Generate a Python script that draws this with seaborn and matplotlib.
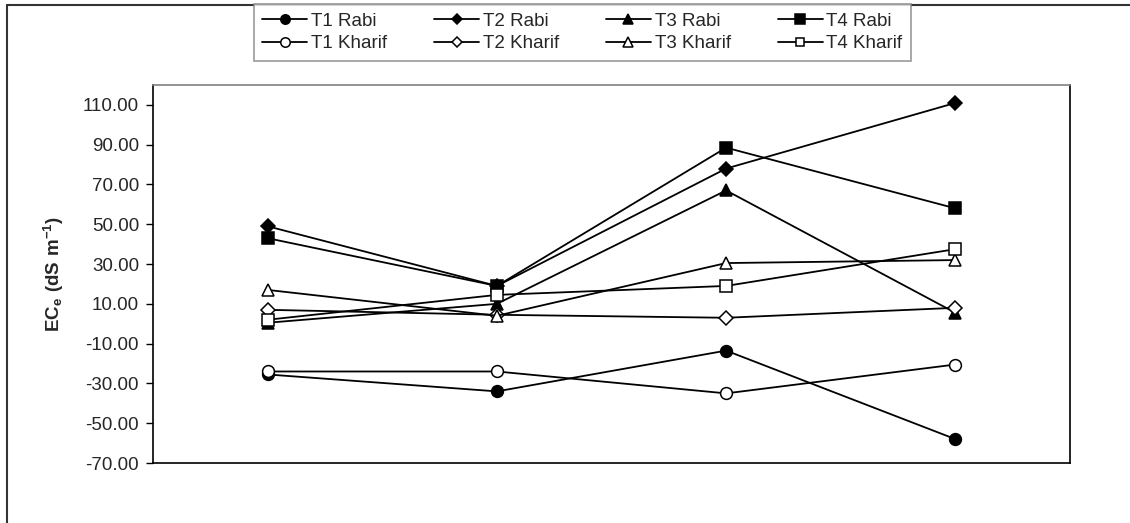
import matplotlib
matplotlib.use("Agg")
import matplotlib.pyplot as plt
from matplotlib.lines import Line2D
from matplotlib.ticker import FormatStrFormatter
import numpy as np
import pandas as pd
import seaborn as sns

# data
periods = ["P1", "P2", "P3", "P4"]
t1_rabi = [-25.5, -34.0, -13.5, -58.0]
t2_rabi = [49.0, 19.0, 78.0, 111.0]
t3_rabi = [0.5, 10.0, 67.0, 5.5]
t4_rabi = [43.0, 19.0, 88.5, 58.0]
t1_kharif = [-24.0, -24.0, -35.0, -20.5]
t2_kharif = [7.0, 4.5, 3.0, 8.0]
t3_kharif = [17.0, 4.0, 30.5, 32.0]
t4_kharif = [2.0, 14.5, 19.0, 37.5]

series = {
    "T1 Rabi": t1_rabi, "T2 Rabi": t2_rabi, "T3 Rabi": t3_rabi, "T4 Rabi": t4_rabi,
    "T1 Kharif": t1_kharif, "T2 Kharif": t2_kharif, "T3 Kharif": t3_kharif, "T4 Kharif": t4_kharif,
}
rows = []
for name, vals in series.items():
    for p, v in zip(periods, vals):
        rows.append({"period": p, "value": v, "series": name})
df = pd.DataFrame(rows)

sns.set_style("white")
plt.rcParams["font.family"] = ["Liberation Sans", "DejaVu Sans"]
plt.rcParams["mathtext.fontset"] = "custom"
plt.rcParams["mathtext.rm"] = "Liberation Sans"
plt.rcParams["mathtext.bf"] = "Liberation Sans:bold"

fig = plt.figure(figsize=(11.3, 5.23), dpi=100)
ax = fig.add_axes([153 / 1130, 60 / 523, 917 / 1130, 378 / 523])

styles = {
    "T1 Rabi": ("o", "black", 8.5),
    "T2 Rabi": ("D", "black", 7.0),
    "T3 Rabi": ("^", "black", 9.0),
    "T4 Rabi": ("s", "black", 8.5),
    "T1 Kharif": ("o", "white", 8.5),
    "T2 Kharif": ("D", "white", 7.0),
    "T3 Kharif": ("^", "white", 9.0),
    "T4 Kharif": ("s", "white", 8.0),
}

for name in series:
    m, fc, ms = styles[name]
    sns.lineplot(data=df[df["series"] == name], x="period", y="value", ax=ax,
                 color="black", linewidth=1.3, marker=m, markersize=ms,
                 markerfacecolor=fc, markeredgecolor="black", markeredgewidth=1.1,
                 label=name, legend=False)

ax.set_xlim(-0.5, 3.5)
ax.set_ylim(-70, 120)
ax.set_yticks(np.arange(-70, 111, 20))
ax.yaxis.set_major_formatter(FormatStrFormatter("%.2f"))
ax.set_xticks([])
ax.set_xlabel("")
ax.set_ylabel(r"$\mathbf{EC_e\ (dS\ m^{-1})}$", fontsize=13.5, labelpad=12)
ax.tick_params(axis="y", which="major", direction="out", length=5, width=1,
               color="black", labelsize=13.5, pad=5, left=True)

for side in ["left", "bottom", "right"]:
    ax.spines[side].set_color("black")
    ax.spines[side].set_linewidth(1.2)
ax.spines["top"].set_color("#808080")
ax.spines["top"].set_linewidth(1.2)

order = ["T1 Rabi", "T1 Kharif", "T2 Rabi", "T2 Kharif",
         "T3 Rabi", "T3 Kharif", "T4 Rabi", "T4 Kharif"]
handles = []
for name in order:
    m, fc, ms = styles[name]
    handles.append(Line2D([], [], color="black", linewidth=1.3, marker=m,
                          markersize=ms * 0.8, markerfacecolor=fc,
                          markeredgecolor="black", markeredgewidth=1.1))
leg = fig.legend(handles, order, loc="upper left", ncol=4, mode="expand",
                 bbox_to_anchor=(254 / 1130, 1 - 58 / 523, 657 / 1130, 54 / 523),
                 fontsize=13.5, frameon=True, fancybox=False, shadow=False,
                 handlelength=2.4, handletextpad=0.2, labelspacing=0.3,
                 borderpad=0.45, borderaxespad=0, columnspacing=1.0)
leg.get_frame().set_edgecolor("#808080")
leg.get_frame().set_linewidth(1.2)

# outer chart frame (left and top edges visible)
fig.add_artist(Line2D([7 / 1130, 7 / 1130], [0, 1 - 4.5 / 523], transform=fig.transFigure,
                      color="#333333", linewidth=1.5))
fig.add_artist(Line2D([7 / 1130, 1], [1 - 4.5 / 523, 1 - 4.5 / 523], transform=fig.transFigure,
                      color="#333333", linewidth=1.5))

fig.savefig("out.png", dpi=100)
